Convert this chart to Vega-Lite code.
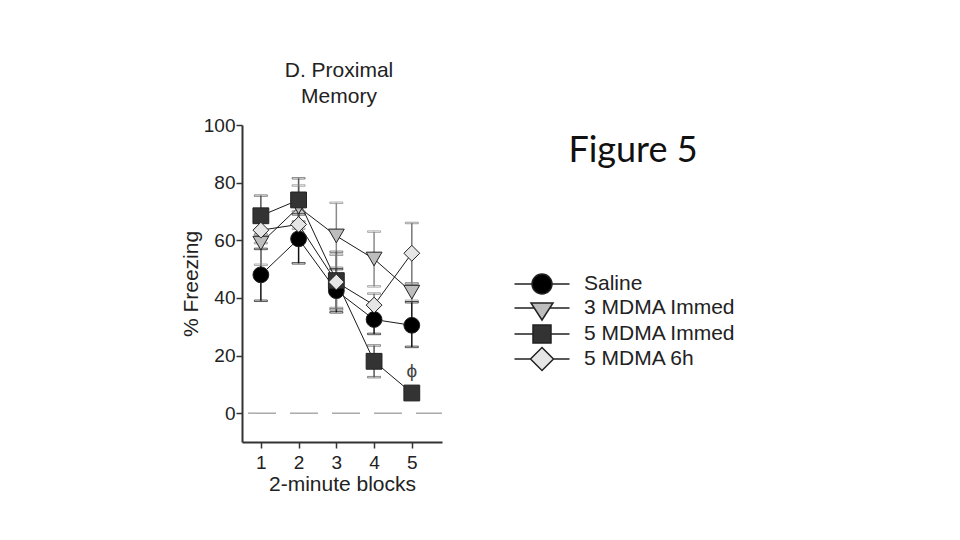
{
  "$schema": "https://vega.github.io/schema/vega-lite/v6.json",
  "width": 200,
  "height": 317,
  "padding": {"left": 180, "top": 60, "right": 5, "bottom": 5},
  "background": "white",
  "title": {
    "text": ["D. Proximal", "Memory"],
    "font": "Liberation Sans",
    "fontSize": 21,
    "fontWeight": "normal",
    "color": "#222",
    "lineHeight": 26,
    "anchor": "middle",
    "dx": -3,
    "offset": 9
  },
  "datasets": {
    "means": [
      {"series": "Saline", "block": 1, "mean": 48, "lo": 39, "hi": 57},
      {"series": "Saline", "block": 2, "mean": 60.5, "lo": 52, "hi": 69},
      {"series": "Saline", "block": 3, "mean": 42.5, "lo": 35, "hi": 50},
      {"series": "Saline", "block": 4, "mean": 32.5, "lo": 27.5, "hi": 37.5},
      {"series": "Saline", "block": 5, "mean": 30.5, "lo": 23, "hi": 38.5},
      {"series": "3 MDMA Immed", "block": 1, "mean": 59, "lo": 51.5, "hi": 66.5},
      {"series": "3 MDMA Immed", "block": 2, "mean": 71.5, "lo": 64, "hi": 79},
      {"series": "3 MDMA Immed", "block": 3, "mean": 61.5, "lo": 50.5, "hi": 73},
      {"series": "3 MDMA Immed", "block": 4, "mean": 53.5, "lo": 44, "hi": 63},
      {"series": "3 MDMA Immed", "block": 5, "mean": 42, "lo": 39, "hi": 45},
      {"series": "5 MDMA Immed", "block": 1, "mean": 68.5, "lo": 62, "hi": 75.5},
      {"series": "5 MDMA Immed", "block": 2, "mean": 74, "lo": 66.5, "hi": 81.5},
      {"series": "5 MDMA Immed", "block": 3, "mean": 46, "lo": 36, "hi": 56},
      {"series": "5 MDMA Immed", "block": 4, "mean": 18, "lo": 12.5, "hi": 23.5},
      {"series": "5 MDMA Immed", "block": 5, "mean": 7, "lo": 5.5, "hi": 8.5},
      {"series": "5 MDMA 6h", "block": 1, "mean": 63.5, "lo": 59, "hi": 68},
      {"series": "5 MDMA 6h", "block": 2, "mean": 65.5, "lo": 61, "hi": 70},
      {"series": "5 MDMA 6h", "block": 3, "mean": 45.5, "lo": 36.5, "hi": 55},
      {"series": "5 MDMA 6h", "block": 4, "mean": 37.5, "lo": 33, "hi": 41.5},
      {"series": "5 MDMA 6h", "block": 5, "mean": 55.5, "lo": 45, "hi": 66}
    ],
    "zero": [{"level": 0}],
    "note": [{"block": 5, "mean": 14.5, "label": "ϕ"}]
  },
  "layer": [
    {
      "data": {"name": "zero"},
      "mark": {"type": "rule", "color": "#aaaaaa", "strokeWidth": 1.5, "strokeDash": [28, 14], "strokeDashOffset": 2},
      "encoding": {
        "y": {
          "field": "level",
          "type": "quantitative",
          "scale": {"domain": [-10, 100], "nice": false, "zero": false},
          "axis": {
            "title": "% Freezing",
            "values": [0, 20, 40, 60, 80, 100],
            "grid": false,
            "tickSize": 6,
            "labelPadding": 1,
            "titlePadding": 2
          }
        }
      }
    },
    {
      "data": {"name": "means"},
      "mark": {"type": "line", "color": "#1a1a1a", "strokeWidth": 1},
      "encoding": {
        "x": {
          "field": "block",
          "type": "quantitative",
          "scale": {"domain": [0.5, 5.8], "nice": false, "zero": false},
          "axis": {
            "title": "2-minute blocks",
            "values": [1, 2, 3, 4, 5],
            "grid": false,
            "tickSize": 6,
            "labelPadding": 5,
            "titlePadding": 1
          }
        },
        "y": {"field": "mean", "type": "quantitative"},
        "detail": {"field": "series"},
        "order": {"field": "block"}
      }
    },
    {
      "data": {"name": "means"},
      "mark": {"type": "rule", "strokeWidth": 1.5},
      "encoding": {
        "x": {"field": "block", "type": "quantitative"},
        "y": {"field": "lo", "type": "quantitative"},
        "y2": {"field": "hi"},
        "stroke": {
          "field": "series",
          "type": "nominal",
          "scale": {"domain": ["5 MDMA 6h", "5 MDMA Immed", "3 MDMA Immed", "Saline"], "range": ["#777777", "#555555", "#8a8a8a", "#111111"]},
          "legend": null
        }
      }
    },
    {
      "data": {"name": "means"},
      "mark": {"type": "tick", "orient": "horizontal", "size": 13, "thickness": 1.5},
      "encoding": {
        "x": {"field": "block", "type": "quantitative"},
        "y": {"field": "lo", "type": "quantitative"},
        "color": {"value": null},
        "stroke": {"field": "series", "type": "nominal", "legend": null}
      }
    },
    {
      "data": {"name": "means"},
      "mark": {"type": "tick", "orient": "horizontal", "size": 13, "thickness": 1.5},
      "encoding": {
        "x": {"field": "block", "type": "quantitative"},
        "y": {"field": "hi", "type": "quantitative"},
        "color": {"value": null},
        "stroke": {"field": "series", "type": "nominal", "legend": null}
      }
    },
    {
      "data": {"name": "means"},
      "mark": {"type": "point", "filled": true, "size": 250, "stroke": "#222", "strokeWidth": 1, "opacity": 1},
      "encoding": {
        "x": {"field": "block", "type": "quantitative"},
        "y": {"field": "mean", "type": "quantitative"},
        "shape": {
          "field": "series",
          "type": "nominal",
          "scale": {"domain": ["3 MDMA Immed", "Saline", "5 MDMA Immed", "5 MDMA 6h"], "range": ["triangle-down", "circle", "square", "diamond"]},
          "legend": null
        },
        "fill": {
          "field": "series",
          "type": "nominal",
          "scale": {"domain": ["Saline", "3 MDMA Immed", "5 MDMA Immed", "5 MDMA 6h"], "range": ["#000000", "#bdbdbd", "#333333", "#e6e6e6"]},
          "legend": {
            "title": "Figure 5", "orient": "none", "legendX": 289, "legendY": 9,
            "titleFont": "Lato", "titleFontSize": 36, "titleFontWeight": "normal", "titleColor": "#111",
            "titlePadding": 103, "titleAnchor": "middle", "symbolSize": 400,
            "symbolType": {"expr": "datum.value === 'Saline' ? 'M-2.75,0H-1M1,0H2.75M-1,0A1,1,0,1,1,1,0A1,1,0,1,1,-1,0Z' : datum.value === '3 MDMA Immed' ? 'M-2.75,0H-0.78M0.78,0H2.75M-1.1,-0.5L1.1,-0.5L0,1.2Z' : datum.value === '5 MDMA Immed' ? 'M-2.75,0H-0.9M0.9,0H2.75M-0.9,-0.9H0.9V0.9H-0.9Z' : 'M-2.75,0H-1.15M1.15,0H2.75M0,-1.15L1.15,0L0,1.15L-1.15,0Z'"},
            "labelFont": "Liberation Sans", "labelFontSize": 21, "labelColor": "#222", "labelOffset": 31, "rowPadding": -2,
            "encode": {
              "symbols": {"update": {
                "shape": {"signal": "datum.value === 'Saline' ? 'M-2.75,0H-1M1,0H2.75M-1,0A1,1,0,1,1,1,0A1,1,0,1,1,-1,0Z' : datum.value === '3 MDMA Immed' ? 'M-2.75,0H-0.78M0.78,0H2.75M-1.1,-0.5L1.1,-0.5L0,1.2Z' : datum.value === '5 MDMA Immed' ? 'M-2.75,0H-0.9M0.9,0H2.75M-0.9,-0.9H0.9V0.9H-0.9Z' : 'M-2.75,0H-1.15M1.15,0H2.75M0,-1.15L1.15,0L0,1.15L-1.15,0Z'"},
                "stroke": {"value": "#222"}, "strokeWidth": {"value": 1.3}, "opacity": {"value": 1}, "fillOpacity": {"value": 1}, "strokeOpacity": {"value": 1}
              }}
            }
          }
        }
      }
    },
    {
      "data": {"name": "note"},
      "mark": {"type": "text", "font": "Liberation Sans", "fontSize": 19, "color": "#444"},
      "encoding": {
        "x": {"field": "block", "type": "quantitative"},
        "y": {"field": "mean", "type": "quantitative"},
        "text": {"field": "label"}
      }
    }
  ],
  "config": {
    "view": {"stroke": null},
    "axis": {
      "labelFont": "Liberation Sans",
      "labelFontSize": 19,
      "labelColor": "#222",
      "titleFont": "Liberation Sans",
      "titleFontSize": 21,
      "titleFontWeight": "normal",
      "titleColor": "#222",
      "domainColor": "#333",
      "domainWidth": 2,
      "tickColor": "#333",
      "tickWidth": 1.5
    }
  }
}
